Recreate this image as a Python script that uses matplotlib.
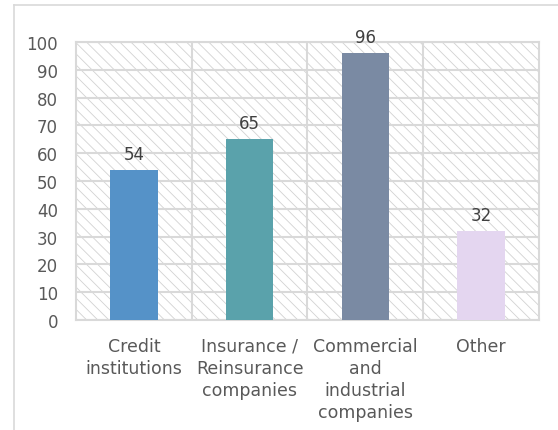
import matplotlib
matplotlib.use("Agg")
import matplotlib.pyplot as plt
from matplotlib.patches import Rectangle
from matplotlib.lines import Line2D

categories = ["Credit\ninstitutions", "Insurance /\nReinsurance\ncompanies",
              "Commercial\nand\nindustrial\ncompanies", "Other"]
values = [54, 65, 96, 32]
colors = ["#5592C8", "#5AA2AB", "#7A8AA3", "#E4D6F0"]
yticks = list(range(0, 101, 10))

TEXT = "#595959"
GRID = "#D9D9D9"

plt.rcParams['font.family'] = ['DejaVu Sans']
plt.rcParams['hatch.linewidth'] = 0.6
plt.rcParams['hatch.color'] = "#D2D2D2"

fig = plt.figure(figsize=(5.58, 4.31), dpi=100, facecolor='white')
ax = fig.add_axes([0.1362, 0.2552, 0.8297, 0.645])

# striped plot background
bg = Rectangle((0, 0), 1, 1, transform=ax.transAxes, facecolor='white',
               edgecolor="#D2D2D2", hatch='\\\\\\', linewidth=0, zorder=0)
ax.add_patch(bg)

x = list(range(len(categories)))
ax.bar(x, values, width=0.41, color=colors, zorder=3)
for xi, v in zip(x, values):
    ax.text(xi, v + 2.6, str(v), ha='center', va='bottom', fontsize=12, color="#404040", zorder=4)

ax.set_xlim(-0.5, 3.5)
ax.set_ylim(0, 100)
ax.set_yticks(yticks)
ax.set_xticks(x)
ax.set_xticklabels(categories, fontsize=12.5, color=TEXT, linespacing=1.3)
ax.tick_params(axis='y', length=0, pad=13, labelsize=12, labelcolor=TEXT)
ax.tick_params(axis='x', length=0, pad=12)

# grid: horizontal at each tick, vertical between categories
for yv in yticks:
    ax.axhline(yv, color=GRID, lw=1.5, zorder=1)
for xv in [0.5, 1.5, 2.5]:
    ax.axvline(xv, color=GRID, lw=1.5, zorder=1)

for s in ax.spines.values():
    s.set_color(GRID)
    s.set_linewidth(1.5)
    s.set_zorder(2)

# chart frame on left and top
fig.add_artist(Line2D([13.5 / 558, 13.5 / 558], [0, 1 - 5.5 / 431], transform=fig.transFigure,
                      color=GRID, lw=1.2))
fig.add_artist(Line2D([13.5 / 558, 1], [1 - 5.5 / 431, 1 - 5.5 / 431], transform=fig.transFigure,
                      color=GRID, lw=1.2))

fig.savefig("out.png", dpi=100, facecolor='white')
